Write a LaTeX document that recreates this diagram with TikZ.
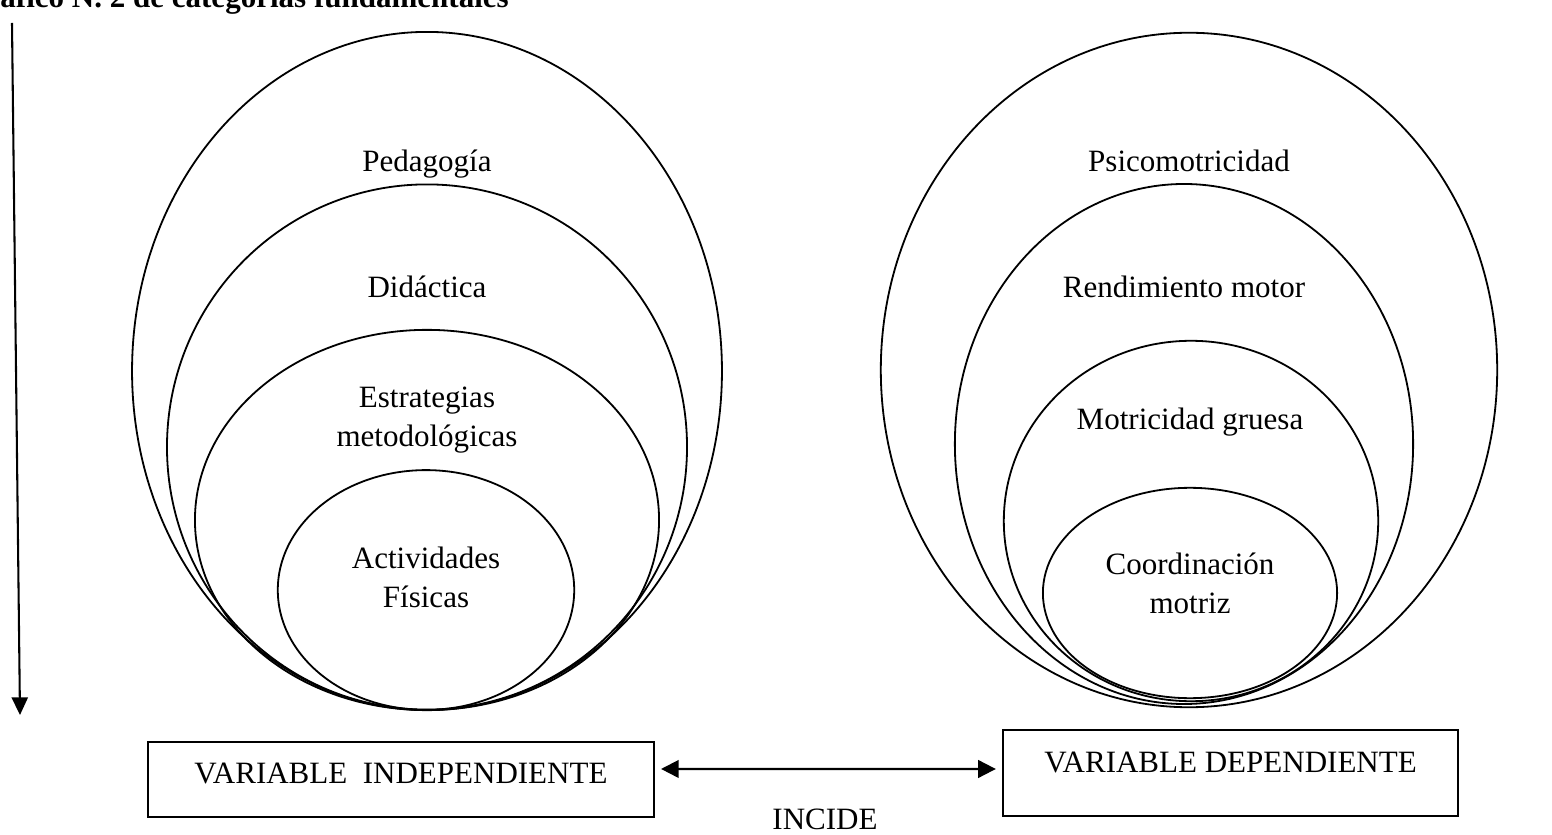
\documentclass[tikz,border=0pt]{standalone}
\usepackage{fontspec}
\setmainfont{Liberation Serif}
\usepackage{tikz}
\usetikzlibrary{shapes.geometric,arrows.meta,positioning,calc}
\tikzset{
  oval/.style={draw,ellipse,line width=0.7pt,inner sep=0pt},
  lbl/.style={align=center,font=\fontsize{12pt}{15pt}\selectfont},
  varbox/.style={draw,line width=0.8pt,inner xsep=0pt,inner ysep=0pt,
                 font=\fontsize{12pt}{15pt}\selectfont},
  arr/.style={-{Triangle[length=0.24cm,width=0.22cm]},line width=0.8pt},
  dblarr/.style={{Triangle[length=0.24cm,width=0.24cm]}-{Triangle[length=0.24cm,width=0.24cm]},
                 line width=0.8pt},
}

\begin{document}
\begin{tikzpicture}[x=0.0136cm,y=-0.0136cm]
        \useasboundingbox (0,0) rectangle (1552,835);
        \clip (0,0) rectangle (1552,835);
        \node[font=\fontsize{12pt}{15pt}\selectfont\bfseries,anchor=base west,inner sep=0pt]
              (ttl) at (-38,8) {Gráfico N. 2 de categorías fundamentales};
        \coordinate (vtop) at (12,23);
        \coordinate (vbot) at (20,715);
        \draw[arr] (vtop) -- (vbot);
        \node[oval,minimum width=8.02cm,minimum height=9.22cm] (ped) at (427,371) {};
        \node[oval,minimum width=7.07cm,minimum height=7.14cm] (did) at (427,447) {};
        \node[oval,minimum width=6.31cm,minimum height=5.17cm] (est) at (427,520) {};
        \node[oval,minimum width=4.03cm,minimum height=3.26cm] (act) at (426,590) {};
        \node[lbl,anchor=base] (pedl) at (427,172) {Pedagogía};
        \node[lbl,anchor=base] (didl) at (427,298) {Didáctica};
        \node[lbl] (estl) at (427,420) {Estrategias\\metodológicas};
        \node[lbl] (actl) at (426,577) {Actividades\\Físicas};
        \node[oval,minimum width=8.38cm,minimum height=9.17cm] (psi) at (1189,370) {};
        \node[oval,minimum width=6.23cm,minimum height=7.07cm] (ren) at (1184,444) {};
        \node[oval,minimum width=5.09cm,minimum height=4.90cm] (mot) at (1191,521) {};
        \node[oval,minimum width=4.00cm,minimum height=2.86cm] (coo) at (1190,593) {};
        \node[lbl,anchor=base] (psil) at (1189,172) {Psicomotricidad};
        \node[lbl,anchor=base] (renl) at (1184,298) {Rendimiento motor};
        \node[lbl,anchor=base] (motl) at (1190,430) {Motricidad gruesa};
        \node[lbl] (cool) at (1190,583) {Coordinación\\motriz};
        \node[varbox,minimum width=6.88cm,text height=0.558cm,text depth=0.462cm,anchor=base]
              (vi) at (401,783) {VARIABLE\ \ INDEPENDIENTE};
        \node[varbox,minimum width=6.19cm,text height=0.571cm,text depth=0.598cm,anchor=base]
              (vd) at (1230.5,772) {VARIABLE DEPENDIENTE};
        \node[lbl,anchor=base] (inc) at (825,829) {INCIDE};
        \draw[dblarr] ([shift={(6,-10.5)}]vi.east) -- ([shift={(-6,-4)}]vd.west);
\end{tikzpicture}
\end{document}
